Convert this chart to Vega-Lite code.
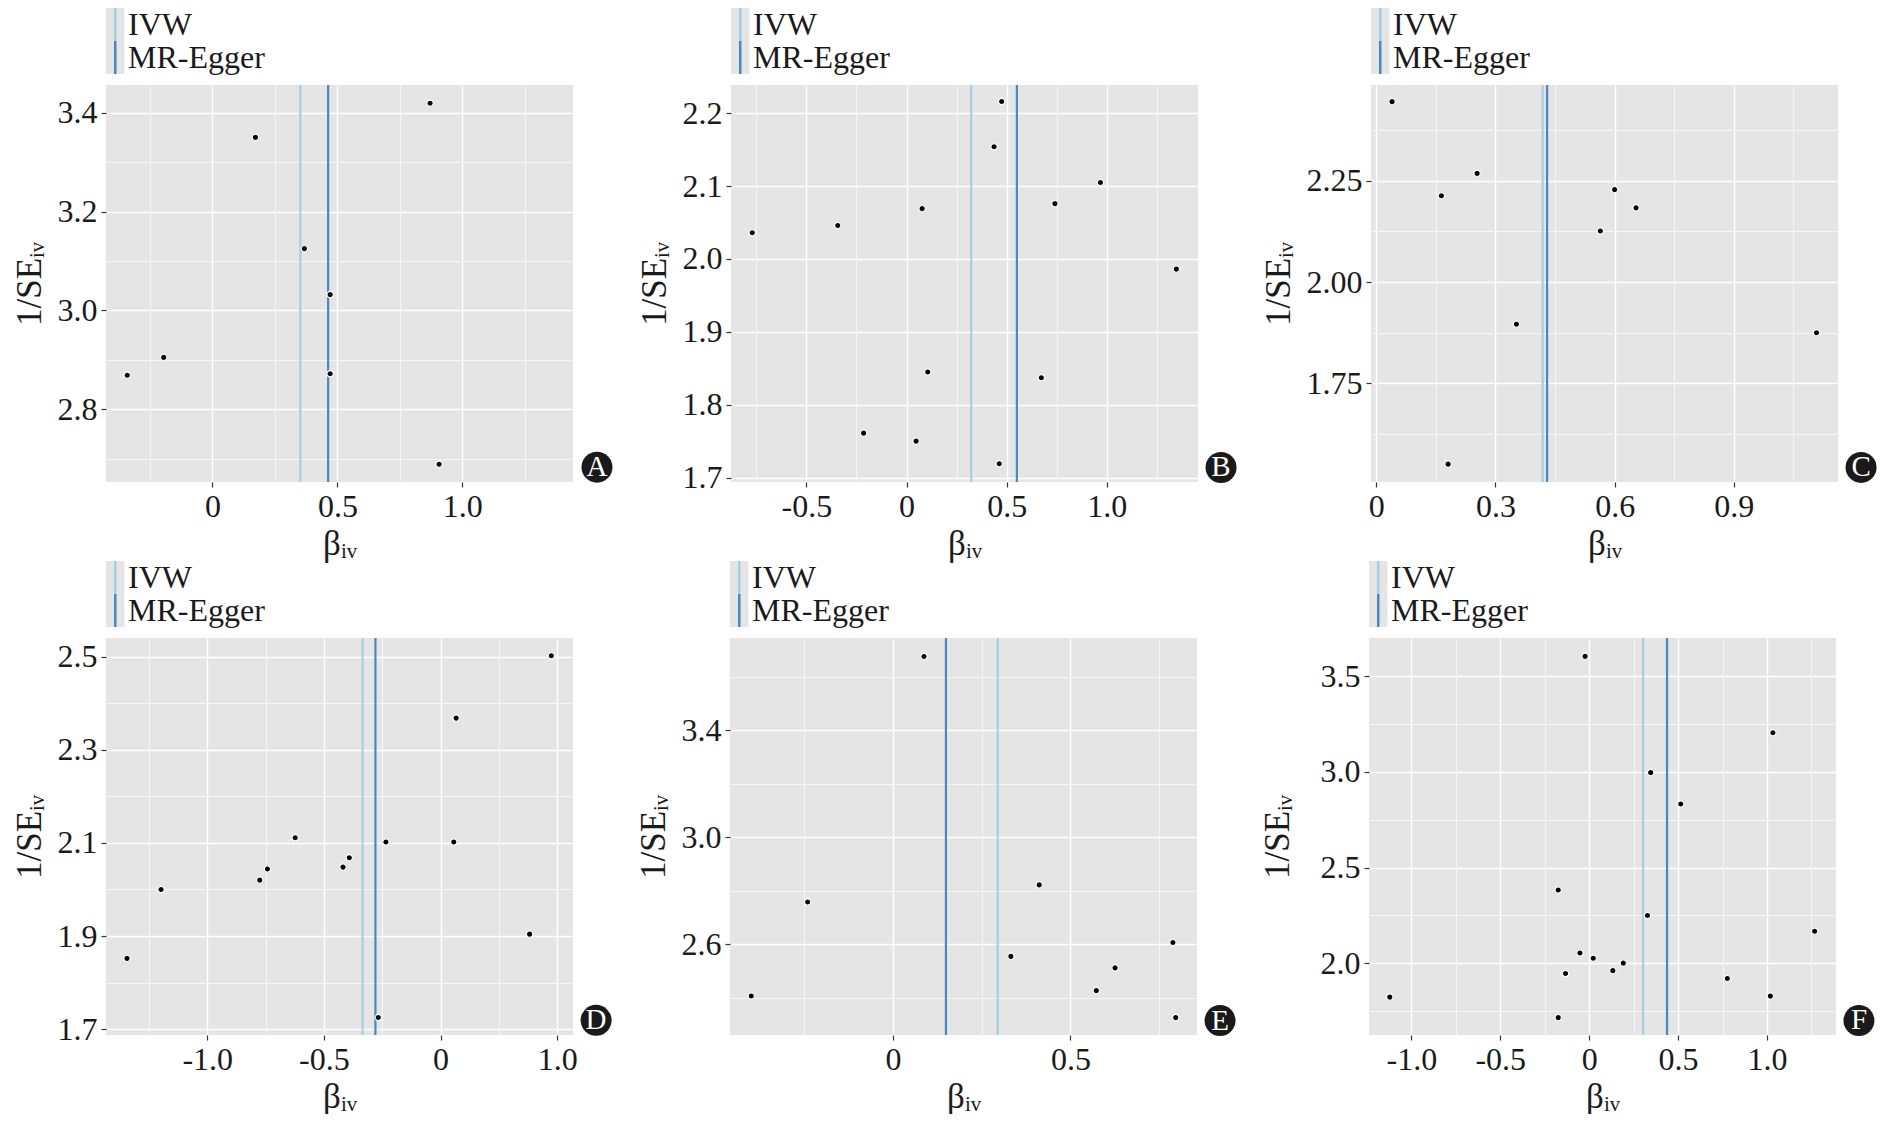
{
  "$schema": "https://vega.github.io/schema/vega-lite/v6.json",
  "background": "white",
  "padding": {"left": 12, "top": 8, "right": 0, "bottom": 0},
  "config": {
    "view": {"stroke": null},
    "circle": {"opacity": 1},
    "axis": {
      "domain": false, "grid": true, "gridColor": "#FFFFFF",
      "tickColor": "#333333", "tickSize": 5, "tickWidth": 1.2,
      "labelFont": "Liberation Serif", "labelFontSize": 32, "labelColor": "#1a1a1a",
      "labelPadding": 4, "labelOverlap": false, "labelFlush": false, "labelBound": false,
      "titleFont": "Liberation Serif", "titleFontSize": 35, "titleFontWeight": "normal", "titleColor": "#1a1a1a"
    },
    "axisX": {"titlePadding": 4},
    "axisY": {"titlePadding": 10}
  },
  "datasets": {
    "legend": [{"method": "IVW"}, {"method": "MR-Egger"}],
    "pointsA": [
      {"b": -0.341, "w": 2.869}, {"b": -0.195, "w": 2.905}, {"b": 0.172, "w": 3.350}, {"b": 0.368, "w": 3.125},
      {"b": 0.471, "w": 3.032}, {"b": 0.471, "w": 2.872}, {"b": 0.871, "w": 3.419}, {"b": 0.907, "w": 2.689}
    ],
    "linesA": [{"method": "IVW", "b": 0.352}, {"method": "MR-Egger", "b": 0.463}],
    "pointsB": [
      {"b": -0.770, "w": 2.036}, {"b": -0.343, "w": 2.046}, {"b": -0.214, "w": 1.761}, {"b": 0.048, "w": 1.750},
      {"b": 0.078, "w": 2.069}, {"b": 0.106, "w": 1.845}, {"b": 0.437, "w": 2.154}, {"b": 0.475, "w": 2.216},
      {"b": 0.463, "w": 1.719}, {"b": 0.673, "w": 1.837}, {"b": 0.741, "w": 2.076}, {"b": 0.968, "w": 2.105},
      {"b": 1.347, "w": 1.986}
    ],
    "linesB": [{"method": "IVW", "b": 0.323}, {"method": "MR-Egger", "b": 0.551}],
    "pointsC": [
      {"b": 0.040, "w": 2.445}, {"b": 0.164, "w": 2.213}, {"b": 0.254, "w": 2.268}, {"b": 0.181, "w": 1.551},
      {"b": 0.353, "w": 1.896}, {"b": 0.564, "w": 2.126}, {"b": 0.600, "w": 2.228}, {"b": 0.654, "w": 2.183},
      {"b": 1.108, "w": 1.875}
    ],
    "linesC": [{"method": "IVW", "b": 0.419}, {"method": "MR-Egger", "b": 0.430}],
    "pointsD": [
      {"b": -1.344, "w": 1.852}, {"b": -1.198, "w": 2.000}, {"b": -0.775, "w": 2.020}, {"b": -0.742, "w": 2.044},
      {"b": -0.623, "w": 2.111}, {"b": -0.418, "w": 2.048}, {"b": -0.391, "w": 2.068}, {"b": -0.234, "w": 2.102},
      {"b": -0.267, "w": 1.725}, {"b": 0.057, "w": 2.102}, {"b": 0.067, "w": 2.368}, {"b": 0.382, "w": 1.904},
      {"b": 0.475, "w": 2.502}
    ],
    "linesD": [{"method": "IVW", "b": -0.334}, {"method": "MR-Egger", "b": -0.279}],
    "pointsE": [
      {"b": -0.400, "w": 2.406}, {"b": -0.241, "w": 2.757}, {"b": 0.087, "w": 3.675}, {"b": 0.332, "w": 2.554},
      {"b": 0.412, "w": 2.821}, {"b": 0.573, "w": 2.426}, {"b": 0.626, "w": 2.511}, {"b": 0.789, "w": 2.606},
      {"b": 0.797, "w": 2.325}
    ],
    "linesE": [{"method": "IVW", "b": 0.295}, {"method": "MR-Egger", "b": 0.149}],
    "pointsF": [
      {"b": -1.121, "w": 1.824}, {"b": -0.174, "w": 2.383}, {"b": -0.174, "w": 1.717}, {"b": -0.133, "w": 1.947},
      {"b": -0.052, "w": 2.054}, {"b": -0.023, "w": 3.603}, {"b": 0.023, "w": 2.027}, {"b": 0.133, "w": 1.962},
      {"b": 0.192, "w": 2.001}, {"b": 0.328, "w": 2.250}, {"b": 0.346, "w": 2.996}, {"b": 0.515, "w": 2.832},
      {"b": 0.777, "w": 1.921}, {"b": 1.019, "w": 1.829}, {"b": 1.033, "w": 3.204}, {"b": 1.268, "w": 2.168}
    ],
    "linesF": [{"method": "IVW", "b": 0.303}, {"method": "MR-Egger", "b": 0.438}]
  },
  "spacing": 0,
  "vconcat": [
    {
      "hconcat": [
        {
          "spacing": 9,
          "vconcat": [
            {
              "data": {"name": "legend"}, "width": 180, "height": 66,
              "encoding": {"y": {"field": "method", "type": "nominal", "sort": null, "axis": null, "scale": {"paddingInner": 0, "paddingOuter": 0}}},
              "layer": [
                {"mark": {"type": "rect", "fill": "#E5E5E5"}, "encoding": {"x": {"datum": 0, "type": "quantitative", "scale": {"domain": [0, 180], "nice": false, "zero": false}, "axis": null}, "x2": {"datum": 18.5}}},
                {"mark": {"type": "tick", "thickness": 2.5, "size": 33, "opacity": 1}, "encoding": {"x": {"datum": 9.25, "type": "quantitative"}, "color": {"field": "method", "type": "nominal", "scale": {"domain": ["IVW", "MR-Egger"], "range": ["#A6CEE3", "#4A88C4"]}, "legend": null}}},
                {"mark": {"type": "text", "align": "left", "baseline": "middle", "font": "Liberation Serif", "fontSize": 32, "color": "#1a1a1a"}, "encoding": {"x": {"datum": 22, "type": "quantitative"}, "text": {"field": "method"}}}
              ]
            },
            {
              "width": 467, "height": 397,
              "view": {"fill": "#E5E5E5", "stroke": null},
              "layer": [
                {"data": {"name": "linesA"}, "mark": {"type": "rule", "strokeWidth": 2.2},
                 "encoding": {"x": {"field": "b", "type": "quantitative"}, "color": {"field": "method", "type": "nominal", "scale": {"domain": ["IVW", "MR-Egger"], "range": ["#A6CEE3", "#4A88C4"]}, "legend": null}}},
                {"data": {"name": "pointsA"}, "mark": {"type": "circle", "size": 40, "fill": "black", "stroke": "white", "strokeWidth": 1.2, "opacity": 1},
                 "encoding": {
                   "x": {"field": "b", "type": "quantitative", "title": "βᵢᵥ", "scale": {"domain": [-0.426, 1.443], "nice": false, "zero": false},
                     "axis": {"values": [-0.25, 0, 0.25, 0.5, 0.75, 1, 1.25],
                       "labelExpr": "indexof([0,0.5,1], datum.value) < 0 ? '' : datum.value == 0 ? '0' : (datum.value < 0 ? '-' : '') + format(abs(datum.value), '.1f')",
                       "gridWidth": {"condition": {"test": "indexof([0,0.5,1], datum.value) >= 0", "value": 1.4}, "value": 0.6},
                       "tickOpacity": {"condition": {"test": "indexof([0,0.5,1], datum.value) >= 0", "value": 1}, "value": 0}}},
                   "y": {"field": "w", "type": "quantitative", "title": "1/SEᵢᵥ", "scale": {"domain": [2.653, 3.456], "nice": false, "zero": false},
                     "axis": {"values": [2.7, 2.8, 2.9, 3.0, 3.1, 3.2, 3.3, 3.4],
                       "labelExpr": "indexof([2.8,3,3.2,3.4], datum.value) < 0 ? '' : format(datum.value, '.1f')",
                       "gridWidth": {"condition": {"test": "indexof([2.8,3,3.2,3.4], datum.value) >= 0", "value": 1.4}, "value": 0.6},
                       "tickOpacity": {"condition": {"test": "indexof([2.8,3,3.2,3.4], datum.value) >= 0", "value": 1}, "value": 0}}}
                 }},
                {"data": {"values": [{"tag": "A"}]}, "mark": {"type": "circle", "size": 960, "fill": "#1a1a1a", "opacity": 1, "clip": false},
                 "encoding": {"x": {"datum": 1.539, "type": "quantitative"}, "y": {"datum": 2.683, "type": "quantitative"}}},
                {"data": {"values": [{"tag": "A"}]}, "mark": {"type": "text", "color": "white", "font": "Liberation Serif", "fontSize": 29, "baseline": "middle", "clip": false},
                 "encoding": {"x": {"datum": 1.539, "type": "quantitative"}, "y": {"datum": 2.683, "type": "quantitative"}, "text": {"field": "tag"}}}
              ]
            }
          ]
        },
        {
          "spacing": 9,
          "vconcat": [
            {
              "data": {"name": "legend"}, "width": 180, "height": 66,
              "encoding": {"y": {"field": "method", "type": "nominal", "sort": null, "axis": null, "scale": {"paddingInner": 0, "paddingOuter": 0}}},
              "layer": [
                {"mark": {"type": "rect", "fill": "#E5E5E5"}, "encoding": {"x": {"datum": 0, "type": "quantitative", "scale": {"domain": [0, 180], "nice": false, "zero": false}, "axis": null}, "x2": {"datum": 18.5}}},
                {"mark": {"type": "tick", "thickness": 2.5, "size": 33, "opacity": 1}, "encoding": {"x": {"datum": 9.25, "type": "quantitative"}, "color": {"field": "method", "type": "nominal", "scale": {"domain": ["IVW", "MR-Egger"], "range": ["#A6CEE3", "#4A88C4"]}, "legend": null}}},
                {"mark": {"type": "text", "align": "left", "baseline": "middle", "font": "Liberation Serif", "fontSize": 32, "color": "#1a1a1a"}, "encoding": {"x": {"datum": 22, "type": "quantitative"}, "text": {"field": "method"}}}
              ]
            },
            {
              "width": 467, "height": 397,
              "view": {"fill": "#E5E5E5", "stroke": null},
              "layer": [
                {"data": {"name": "linesB"}, "mark": {"type": "rule", "strokeWidth": 2.2},
                 "encoding": {"x": {"field": "b", "type": "quantitative"}, "color": {"field": "method", "type": "nominal", "scale": {"domain": ["IVW", "MR-Egger"], "range": ["#A6CEE3", "#4A88C4"]}, "legend": null}}},
                {"data": {"name": "pointsB"}, "mark": {"type": "circle", "size": 40, "fill": "black", "stroke": "white", "strokeWidth": 1.2, "opacity": 1},
                 "encoding": {
                   "x": {"field": "b", "type": "quantitative", "title": "βᵢᵥ", "scale": {"domain": [-0.876, 1.455], "nice": false, "zero": false},
                     "axis": {"values": [-0.75, -0.5, -0.25, 0, 0.25, 0.5, 0.75, 1, 1.25],
                       "labelExpr": "indexof([-0.5,0,0.5,1], datum.value) < 0 ? '' : datum.value == 0 ? '0' : (datum.value < 0 ? '-' : '') + format(abs(datum.value), '.1f')",
                       "gridWidth": {"condition": {"test": "indexof([-0.5,0,0.5,1], datum.value) >= 0", "value": 1.4}, "value": 0.6},
                       "tickOpacity": {"condition": {"test": "indexof([-0.5,0,0.5,1], datum.value) >= 0", "value": 1}, "value": 0}}},
                   "y": {"field": "w", "type": "quantitative", "title": "1/SEᵢᵥ", "scale": {"domain": [1.694, 2.2387], "nice": false, "zero": false},
                     "axis": {"values": [1.7, 1.75, 1.8, 1.85, 1.9, 1.95, 2.0, 2.05, 2.1, 2.15, 2.2],
                       "labelExpr": "indexof([1.7,1.8,1.9,2,2.1,2.2], datum.value) < 0 ? '' : format(datum.value, '.1f')",
                       "gridWidth": {"condition": {"test": "indexof([1.7,1.8,1.9,2,2.1,2.2], datum.value) >= 0", "value": 1.4}, "value": 0.6},
                       "tickOpacity": {"condition": {"test": "indexof([1.7,1.8,1.9,2,2.1,2.2], datum.value) >= 0", "value": 1}, "value": 0}}}
                 }},
                {"data": {"values": [{"tag": "B"}]}, "mark": {"type": "circle", "size": 960, "fill": "#1a1a1a", "opacity": 1, "clip": false},
                 "encoding": {"x": {"datum": 1.570, "type": "quantitative"}, "y": {"datum": 1.714, "type": "quantitative"}}},
                {"data": {"values": [{"tag": "B"}]}, "mark": {"type": "text", "color": "white", "font": "Liberation Serif", "fontSize": 29, "baseline": "middle", "clip": false},
                 "encoding": {"x": {"datum": 1.570, "type": "quantitative"}, "y": {"datum": 1.714, "type": "quantitative"}, "text": {"field": "tag"}}}
              ]
            }
          ]
        },
        {
          "spacing": 9,
          "vconcat": [
            {
              "data": {"name": "legend"}, "width": 180, "height": 66,
              "encoding": {"y": {"field": "method", "type": "nominal", "sort": null, "axis": null, "scale": {"paddingInner": 0, "paddingOuter": 0}}},
              "layer": [
                {"mark": {"type": "rect", "fill": "#E5E5E5"}, "encoding": {"x": {"datum": 0, "type": "quantitative", "scale": {"domain": [0, 180], "nice": false, "zero": false}, "axis": null}, "x2": {"datum": 18.5}}},
                {"mark": {"type": "tick", "thickness": 2.5, "size": 33, "opacity": 1}, "encoding": {"x": {"datum": 9.25, "type": "quantitative"}, "color": {"field": "method", "type": "nominal", "scale": {"domain": ["IVW", "MR-Egger"], "range": ["#A6CEE3", "#4A88C4"]}, "legend": null}}},
                {"mark": {"type": "text", "align": "left", "baseline": "middle", "font": "Liberation Serif", "fontSize": 32, "color": "#1a1a1a"}, "encoding": {"x": {"datum": 22, "type": "quantitative"}, "text": {"field": "method"}}}
              ]
            },
            {
              "width": 467, "height": 397,
              "view": {"fill": "#E5E5E5", "stroke": null},
              "layer": [
                {"data": {"name": "linesC"}, "mark": {"type": "rule", "strokeWidth": 2.2},
                 "encoding": {"x": {"field": "b", "type": "quantitative"}, "color": {"field": "method", "type": "nominal", "scale": {"domain": ["IVW", "MR-Egger"], "range": ["#A6CEE3", "#4A88C4"]}, "legend": null}}},
                {"data": {"name": "pointsC"}, "mark": {"type": "circle", "size": 40, "fill": "black", "stroke": "white", "strokeWidth": 1.2, "opacity": 1},
                 "encoding": {
                   "x": {"field": "b", "type": "quantitative", "title": "βᵢᵥ", "scale": {"domain": [-0.013, 1.162], "nice": false, "zero": false},
                     "axis": {"values": [0, 0.15, 0.3, 0.45, 0.6, 0.75, 0.9, 1.05],
                       "labelExpr": "indexof([0,0.3,0.6,0.9], datum.value) < 0 ? '' : datum.value == 0 ? '0' : format(datum.value, '.1f')",
                       "gridWidth": {"condition": {"test": "indexof([0,0.3,0.6,0.9], datum.value) >= 0", "value": 1.4}, "value": 0.6},
                       "tickOpacity": {"condition": {"test": "indexof([0,0.3,0.6,0.9], datum.value) >= 0", "value": 1}, "value": 0}}},
                   "y": {"field": "w", "type": "quantitative", "title": "1/SEᵢᵥ", "scale": {"domain": [1.507, 2.486], "nice": false, "zero": false},
                     "axis": {"values": [1.625, 1.75, 1.875, 2, 2.125, 2.25, 2.375],
                       "labelExpr": "indexof([1.75,2,2.25], datum.value) < 0 ? '' : format(datum.value, '.2f')",
                       "gridWidth": {"condition": {"test": "indexof([1.75,2,2.25], datum.value) >= 0", "value": 1.4}, "value": 0.6},
                       "tickOpacity": {"condition": {"test": "indexof([1.75,2,2.25], datum.value) >= 0", "value": 1}, "value": 0}}}
                 }},
                {"data": {"values": [{"tag": "C"}]}, "mark": {"type": "circle", "size": 960, "fill": "#1a1a1a", "opacity": 1, "clip": false},
                 "encoding": {"x": {"datum": 1.220, "type": "quantitative"}, "y": {"datum": 1.543, "type": "quantitative"}}},
                {"data": {"values": [{"tag": "C"}]}, "mark": {"type": "text", "color": "white", "font": "Liberation Serif", "fontSize": 29, "baseline": "middle", "clip": false},
                 "encoding": {"x": {"datum": 1.220, "type": "quantitative"}, "y": {"datum": 1.543, "type": "quantitative"}, "text": {"field": "tag"}}}
              ]
            }
          ]
        }
      ],
      "spacing": 24, "align": "none"
    },
    {
      "hconcat": [
        {
          "spacing": 9,
          "vconcat": [
            {
              "data": {"name": "legend"}, "width": 180, "height": 66,
              "encoding": {"y": {"field": "method", "type": "nominal", "sort": null, "axis": null, "scale": {"paddingInner": 0, "paddingOuter": 0}}},
              "layer": [
                {"mark": {"type": "rect", "fill": "#E5E5E5"}, "encoding": {"x": {"datum": 0, "type": "quantitative", "scale": {"domain": [0, 180], "nice": false, "zero": false}, "axis": null}, "x2": {"datum": 18.5}}},
                {"mark": {"type": "tick", "thickness": 2.5, "size": 33, "opacity": 1}, "encoding": {"x": {"datum": 9.25, "type": "quantitative"}, "color": {"field": "method", "type": "nominal", "scale": {"domain": ["IVW", "MR-Egger"], "range": ["#A6CEE3", "#4A88C4"]}, "legend": null}}},
                {"mark": {"type": "text", "align": "left", "baseline": "middle", "font": "Liberation Serif", "fontSize": 32, "color": "#1a1a1a"}, "encoding": {"x": {"datum": 22, "type": "quantitative"}, "text": {"field": "method"}}}
              ]
            },
            {
              "width": 467, "height": 397,
              "view": {"fill": "#E5E5E5", "stroke": null},
              "layer": [
                {"data": {"name": "linesD"}, "mark": {"type": "rule", "strokeWidth": 2.2},
                 "encoding": {"x": {"field": "b", "type": "quantitative"}, "color": {"field": "method", "type": "nominal", "scale": {"domain": ["IVW", "MR-Egger"], "range": ["#A6CEE3", "#4A88C4"]}, "legend": null}}},
                {"data": {"name": "pointsD"}, "mark": {"type": "circle", "size": 40, "fill": "black", "stroke": "white", "strokeWidth": 1.2, "opacity": 1},
                 "encoding": {
                   "x": {"field": "b", "type": "quantitative", "title": "βᵢᵥ", "scale": {"domain": [-1.434, 0.568], "nice": false, "zero": false},
                     "axis": {"values": [-1.25, -1, -0.75, -0.5, -0.25, 0, 0.25, 0.5],
                       "labelExpr": "indexof([-1,-0.5,0,0.5], datum.value) < 0 ? '' : datum.value == 0 ? '0' : datum.value == 0.5 ? '1.0' : (datum.value < 0 ? '-' : '') + format(abs(datum.value), '.1f')",
                       "gridWidth": {"condition": {"test": "indexof([-1,-0.5,0,0.5], datum.value) >= 0", "value": 1.4}, "value": 0.6},
                       "tickOpacity": {"condition": {"test": "indexof([-1,-0.5,0,0.5], datum.value) >= 0", "value": 1}, "value": 0}}},
                   "y": {"field": "w", "type": "quantitative", "title": "1/SEᵢᵥ", "scale": {"domain": [1.6875, 2.54], "nice": false, "zero": false},
                     "axis": {"values": [1.7, 1.8, 1.9, 2.0, 2.1, 2.2, 2.3, 2.4, 2.5],
                       "labelExpr": "indexof([1.7,1.9,2.1,2.3,2.5], datum.value) < 0 ? '' : format(datum.value, '.1f')",
                       "gridWidth": {"condition": {"test": "indexof([1.7,1.9,2.1,2.3,2.5], datum.value) >= 0", "value": 1.4}, "value": 0.6},
                       "tickOpacity": {"condition": {"test": "indexof([1.7,1.9,2.1,2.3,2.5], datum.value) >= 0", "value": 1}, "value": 0}}}
                 }},
                {"data": {"values": [{"tag": "D"}]}, "mark": {"type": "circle", "size": 960, "fill": "#1a1a1a", "opacity": 1, "clip": false},
                 "encoding": {"x": {"datum": 0.667, "type": "quantitative"}, "y": {"datum": 1.719, "type": "quantitative"}}},
                {"data": {"values": [{"tag": "D"}]}, "mark": {"type": "text", "color": "white", "font": "Liberation Serif", "fontSize": 29, "baseline": "middle", "clip": false},
                 "encoding": {"x": {"datum": 0.667, "type": "quantitative"}, "y": {"datum": 1.719, "type": "quantitative"}, "text": {"field": "tag"}}}
              ]
            }
          ]
        },
        {
          "spacing": 9,
          "vconcat": [
            {
              "data": {"name": "legend"}, "width": 180, "height": 66,
              "encoding": {"y": {"field": "method", "type": "nominal", "sort": null, "axis": null, "scale": {"paddingInner": 0, "paddingOuter": 0}}},
              "layer": [
                {"mark": {"type": "rect", "fill": "#E5E5E5"}, "encoding": {"x": {"datum": 0, "type": "quantitative", "scale": {"domain": [0, 180], "nice": false, "zero": false}, "axis": null}, "x2": {"datum": 18.5}}},
                {"mark": {"type": "tick", "thickness": 2.5, "size": 33, "opacity": 1}, "encoding": {"x": {"datum": 9.25, "type": "quantitative"}, "color": {"field": "method", "type": "nominal", "scale": {"domain": ["IVW", "MR-Egger"], "range": ["#A6CEE3", "#4A88C4"]}, "legend": null}}},
                {"mark": {"type": "text", "align": "left", "baseline": "middle", "font": "Liberation Serif", "fontSize": 32, "color": "#1a1a1a"}, "encoding": {"x": {"datum": 22, "type": "quantitative"}, "text": {"field": "method"}}}
              ]
            },
            {
              "width": 467, "height": 397,
              "view": {"fill": "#E5E5E5", "stroke": null},
              "layer": [
                {"data": {"name": "linesE"}, "mark": {"type": "rule", "strokeWidth": 2.2},
                 "encoding": {"x": {"field": "b", "type": "quantitative"}, "color": {"field": "method", "type": "nominal", "scale": {"domain": ["IVW", "MR-Egger"], "range": ["#A6CEE3", "#4A88C4"]}, "legend": null}}},
                {"data": {"name": "pointsE"}, "mark": {"type": "circle", "size": 40, "fill": "black", "stroke": "white", "strokeWidth": 1.2, "opacity": 1},
                 "encoding": {
                   "x": {"field": "b", "type": "quantitative", "title": "βᵢᵥ", "scale": {"domain": [-0.46, 0.857], "nice": false, "zero": false},
                     "axis": {"values": [-0.25, 0, 0.25, 0.5, 0.75],
                       "labelExpr": "indexof([0,0.5], datum.value) < 0 ? '' : datum.value == 0 ? '0' : (datum.value < 0 ? '-' : '') + format(abs(datum.value), '.1f')",
                       "gridWidth": {"condition": {"test": "indexof([0,0.5], datum.value) >= 0", "value": 1.4}, "value": 0.6},
                       "tickOpacity": {"condition": {"test": "indexof([0,0.5], datum.value) >= 0", "value": 1}, "value": 0}}},
                   "y": {"field": "w", "type": "quantitative", "title": "1/SEᵢᵥ", "scale": {"domain": [2.26, 3.744], "nice": false, "zero": false},
                     "axis": {"values": [2.4, 2.6, 2.8, 3.0, 3.2, 3.4, 3.6],
                       "labelExpr": "indexof([2.6,3,3.4], datum.value) < 0 ? '' : format(datum.value, '.1f')",
                       "gridWidth": {"condition": {"test": "indexof([2.6,3,3.4], datum.value) >= 0", "value": 1.4}, "value": 0.6},
                       "tickOpacity": {"condition": {"test": "indexof([2.6,3,3.4], datum.value) >= 0", "value": 1}, "value": 0}}}
                 }},
                {"data": {"values": [{"tag": "E"}]}, "mark": {"type": "circle", "size": 960, "fill": "#1a1a1a", "opacity": 1, "clip": false},
                 "encoding": {"x": {"datum": 0.922, "type": "quantitative"}, "y": {"datum": 2.314, "type": "quantitative"}}},
                {"data": {"values": [{"tag": "E"}]}, "mark": {"type": "text", "color": "white", "font": "Liberation Serif", "fontSize": 29, "baseline": "middle", "clip": false},
                 "encoding": {"x": {"datum": 0.922, "type": "quantitative"}, "y": {"datum": 2.314, "type": "quantitative"}, "text": {"field": "tag"}}}
              ]
            }
          ]
        },
        {
          "spacing": 9,
          "vconcat": [
            {
              "data": {"name": "legend"}, "width": 180, "height": 66,
              "encoding": {"y": {"field": "method", "type": "nominal", "sort": null, "axis": null, "scale": {"paddingInner": 0, "paddingOuter": 0}}},
              "layer": [
                {"mark": {"type": "rect", "fill": "#E5E5E5"}, "encoding": {"x": {"datum": 0, "type": "quantitative", "scale": {"domain": [0, 180], "nice": false, "zero": false}, "axis": null}, "x2": {"datum": 18.5}}},
                {"mark": {"type": "tick", "thickness": 2.5, "size": 33, "opacity": 1}, "encoding": {"x": {"datum": 9.25, "type": "quantitative"}, "color": {"field": "method", "type": "nominal", "scale": {"domain": ["IVW", "MR-Egger"], "range": ["#A6CEE3", "#4A88C4"]}, "legend": null}}},
                {"mark": {"type": "text", "align": "left", "baseline": "middle", "font": "Liberation Serif", "fontSize": 32, "color": "#1a1a1a"}, "encoding": {"x": {"datum": 22, "type": "quantitative"}, "text": {"field": "method"}}}
              ]
            },
            {
              "width": 467, "height": 397,
              "view": {"fill": "#E5E5E5", "stroke": null},
              "layer": [
                {"data": {"name": "linesF"}, "mark": {"type": "rule", "strokeWidth": 2.2},
                 "encoding": {"x": {"field": "b", "type": "quantitative"}, "color": {"field": "method", "type": "nominal", "scale": {"domain": ["IVW", "MR-Egger"], "range": ["#A6CEE3", "#4A88C4"]}, "legend": null}}},
                {"data": {"name": "pointsF"}, "mark": {"type": "circle", "size": 40, "fill": "black", "stroke": "white", "strokeWidth": 1.2, "opacity": 1},
                 "encoding": {
                   "x": {"field": "b", "type": "quantitative", "title": "βᵢᵥ", "scale": {"domain": [-1.238, 1.388], "nice": false, "zero": false},
                     "axis": {"values": [-1, -0.75, -0.5, -0.25, 0, 0.25, 0.5, 0.75, 1, 1.25],
                       "labelExpr": "indexof([-1,-0.5,0,0.5,1], datum.value) < 0 ? '' : datum.value == 0 ? '0' : (datum.value < 0 ? '-' : '') + format(abs(datum.value), '.1f')",
                       "gridWidth": {"condition": {"test": "indexof([-1,-0.5,0,0.5,1], datum.value) >= 0", "value": 1.4}, "value": 0.6},
                       "tickOpacity": {"condition": {"test": "indexof([-1,-0.5,0,0.5,1], datum.value) >= 0", "value": 1}, "value": 0}}},
                   "y": {"field": "w", "type": "quantitative", "title": "1/SEᵢᵥ", "scale": {"domain": [1.626, 3.699], "nice": false, "zero": false},
                     "axis": {"values": [1.75, 2, 2.25, 2.5, 2.75, 3, 3.25, 3.5], "minExtent": 64,
                       "labelExpr": "indexof([2,2.5,3,3.5], datum.value) < 0 ? '' : format(datum.value, '.1f')",
                       "gridWidth": {"condition": {"test": "indexof([2,2.5,3,3.5], datum.value) >= 0", "value": 1.4}, "value": 0.6},
                       "tickOpacity": {"condition": {"test": "indexof([2,2.5,3,3.5], datum.value) >= 0", "value": 1}, "value": 0}}}
                 }},
                {"data": {"values": [{"tag": "F"}]}, "mark": {"type": "circle", "size": 960, "fill": "#1a1a1a", "opacity": 1, "clip": false},
                 "encoding": {"x": {"datum": 1.517, "type": "quantitative"}, "y": {"datum": 1.702, "type": "quantitative"}}},
                {"data": {"values": [{"tag": "F"}]}, "mark": {"type": "text", "color": "white", "font": "Liberation Serif", "fontSize": 29, "baseline": "middle", "clip": false},
                 "encoding": {"x": {"datum": 1.517, "type": "quantitative"}, "y": {"datum": 1.702, "type": "quantitative"}, "text": {"field": "tag"}}}
              ]
            }
          ]
        }
      ],
      "spacing": 24, "align": "none"
    }
  ]
}
